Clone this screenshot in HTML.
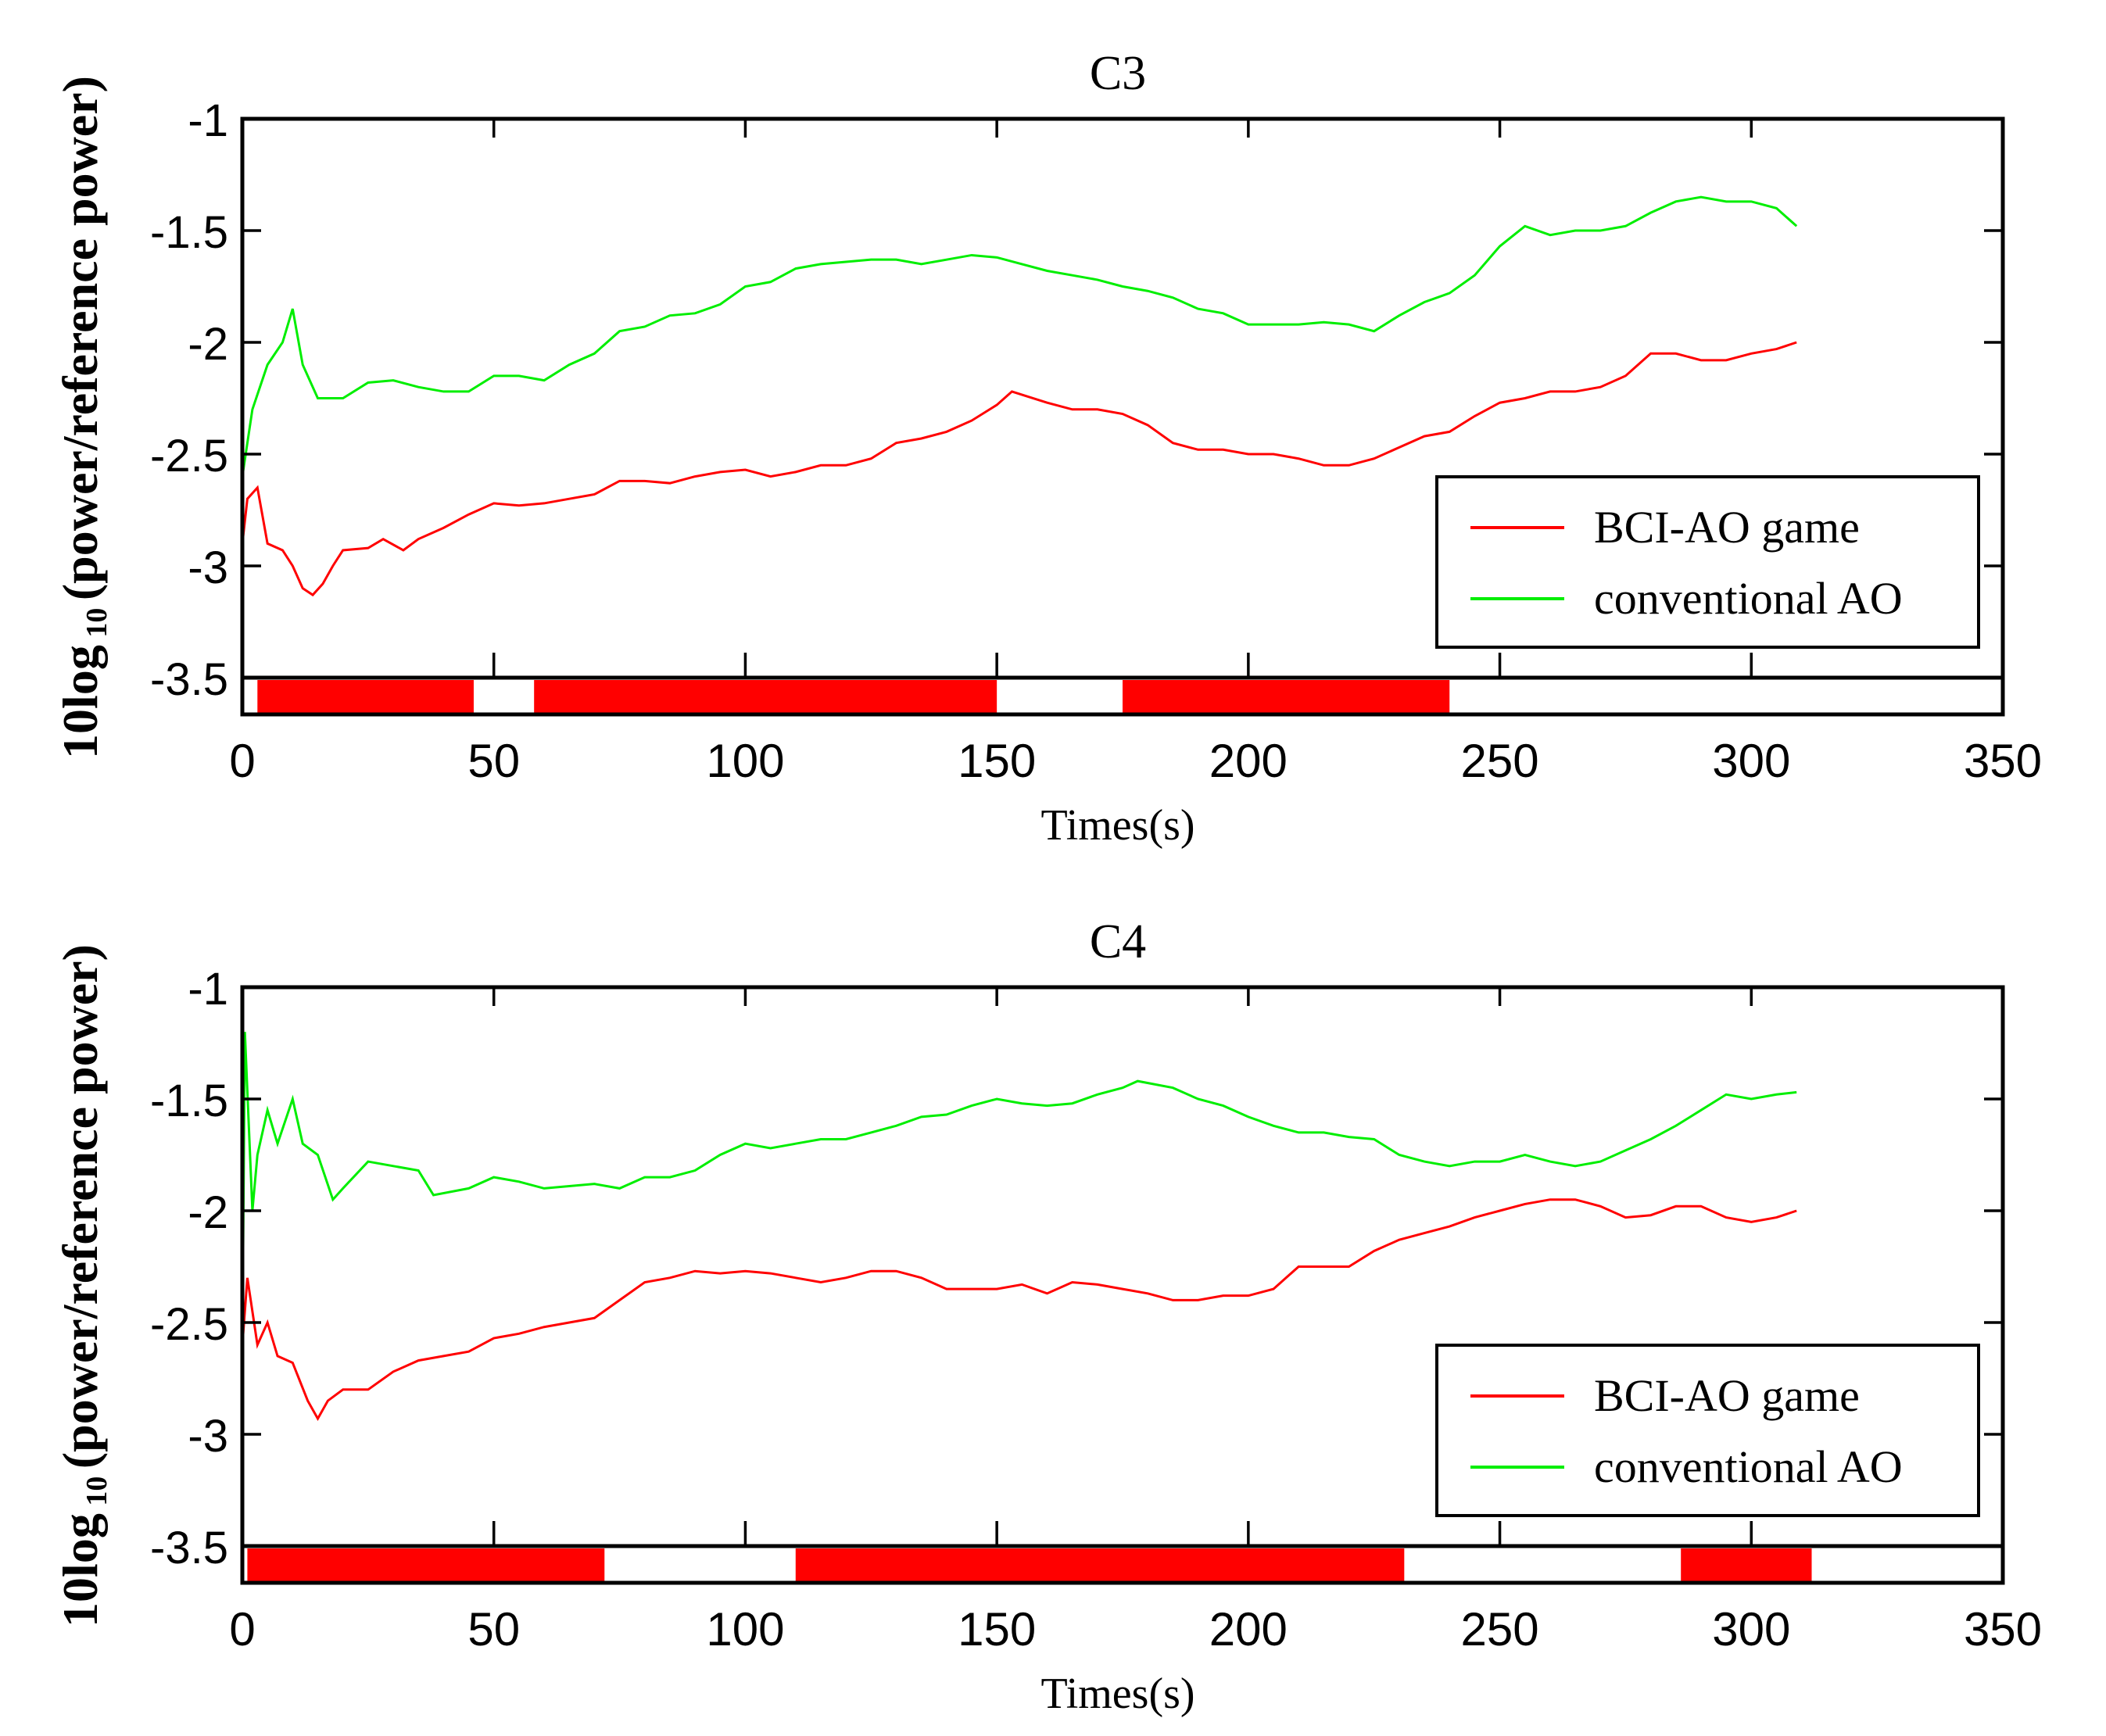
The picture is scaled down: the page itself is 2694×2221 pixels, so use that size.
<!DOCTYPE html>
<html><head><meta charset="utf-8"><style>
html,body{margin:0;padding:0;background:#fff}
svg{display:block}
</style></head><body>
<svg id="fig" xmlns="http://www.w3.org/2000/svg" width="2694" height="2221" viewBox="0 0 2694 2221"></svg>
<script>
// ---------- data ----------
const c3Times = [0,1,3,5,8,10,12,14,16,18,20,25,28,32,35,40,45,50,55,60,65,70,75,80,85,90,95,100,105,110,115,120,125,130,135,140,145,150,153,160,165,170,175,180,185,190,195,200,205,210,215,220,225,230,235,240,245,250,255,260,265,270,275,280,285,290,295,300,305,309];
const c3Red = [-2.9,-2.7,-2.65,-2.9,-2.93,-3.0,-3.1,-3.13,-3.08,-3.0,-2.93,-2.92,-2.88,-2.93,-2.88,-2.83,-2.77,-2.72,-2.73,-2.72,-2.70,-2.68,-2.62,-2.62,-2.63,-2.60,-2.58,-2.57,-2.60,-2.58,-2.55,-2.55,-2.52,-2.45,-2.43,-2.40,-2.35,-2.28,-2.22,-2.27,-2.30,-2.30,-2.32,-2.37,-2.45,-2.48,-2.48,-2.50,-2.50,-2.52,-2.55,-2.55,-2.52,-2.47,-2.42,-2.40,-2.33,-2.27,-2.25,-2.22,-2.22,-2.20,-2.15,-2.05,-2.05,-2.08,-2.08,-2.05,-2.03,-2.0];
const c3GreenTimes = [0,2,5,8,10,12,15,20,25,30,35,40,45,50,55,60,65,70,75,80,85,90,95,100,105,110,115,120,125,130,135,140,145,150,155,160,165,170,175,180,185,190,195,200,205,210,215,220,225,230,235,240,245,250,255,260,265,270,275,280,285,290,295,300,305,309];
const c3Green = [-2.6,-2.3,-2.1,-2.0,-1.85,-2.1,-2.25,-2.25,-2.18,-2.17,-2.2,-2.22,-2.22,-2.15,-2.15,-2.17,-2.1,-2.05,-1.95,-1.93,-1.88,-1.87,-1.83,-1.75,-1.73,-1.67,-1.65,-1.64,-1.63,-1.63,-1.65,-1.63,-1.61,-1.62,-1.65,-1.68,-1.70,-1.72,-1.75,-1.77,-1.80,-1.85,-1.87,-1.92,-1.92,-1.92,-1.91,-1.92,-1.95,-1.88,-1.82,-1.78,-1.70,-1.57,-1.48,-1.52,-1.50,-1.50,-1.48,-1.42,-1.37,-1.35,-1.37,-1.37,-1.40,-1.48];
const c4GreenTimes = [0,0.5,2,3,5,7,10,12,15,18,20,25,30,35,38,45,50,55,60,70,75,80,85,90,95,100,105,110,115,120,125,130,135,140,145,150,155,160,165,170,175,178,185,190,195,200,205,210,215,220,225,230,235,240,245,250,255,260,265,270,275,280,285,290,295,300,305,309];
const c4Green = [-2.6,-1.2,-2.0,-1.75,-1.55,-1.7,-1.5,-1.7,-1.75,-1.95,-1.9,-1.78,-1.80,-1.82,-1.93,-1.9,-1.85,-1.87,-1.9,-1.88,-1.90,-1.85,-1.85,-1.82,-1.75,-1.70,-1.72,-1.70,-1.68,-1.68,-1.65,-1.62,-1.58,-1.57,-1.53,-1.50,-1.52,-1.53,-1.52,-1.48,-1.45,-1.42,-1.45,-1.50,-1.53,-1.58,-1.62,-1.65,-1.65,-1.67,-1.68,-1.75,-1.78,-1.80,-1.78,-1.78,-1.75,-1.78,-1.80,-1.78,-1.73,-1.68,-1.62,-1.55,-1.48,-1.50,-1.48,-1.47];
const c4RedTimes = [0,1,3,5,7,10,13,15,17,20,25,30,35,40,45,50,55,60,65,70,75,80,85,90,95,100,105,110,115,120,125,130,135,140,145,150,155,160,165,170,175,180,185,190,195,200,205,210,215,220,225,230,235,240,245,250,255,260,265,270,275,280,285,290,295,300,305,309];
const c4Red = [-2.6,-2.3,-2.6,-2.5,-2.65,-2.68,-2.85,-2.93,-2.85,-2.80,-2.80,-2.72,-2.67,-2.65,-2.63,-2.57,-2.55,-2.52,-2.50,-2.48,-2.40,-2.32,-2.30,-2.27,-2.28,-2.27,-2.28,-2.30,-2.32,-2.30,-2.27,-2.27,-2.30,-2.35,-2.35,-2.35,-2.33,-2.37,-2.32,-2.33,-2.35,-2.37,-2.40,-2.40,-2.38,-2.38,-2.35,-2.25,-2.25,-2.25,-2.18,-2.13,-2.10,-2.07,-2.03,-2.00,-1.97,-1.95,-1.95,-1.98,-2.03,-2.02,-1.98,-1.98,-2.03,-2.05,-2.03,-2.0];
const c3Blocks = [[3,46],[58,150],[175,240]];
const c4Blocks = [[1,72],[110,231],[286,312]];
const xTicks = [0,50,100,150,200,250,300,350];
const yTicks = [-1,-1.5,-2,-2.5,-3,-3.5];

// ---------- drawing ----------
const NS='http://www.w3.org/2000/svg';
const svg=document.getElementById('fig');
function mk(tag,attrs,parent){const e=document.createElementNS(NS,tag);for(const k in attrs)e.setAttribute(k,attrs[k]);(parent||svg).appendChild(e);return e;}

function panel(prefix,top,title,series,blocks){
  const L=310,R=2562,T=top,base=top+715,B=top+762;
  const g=mk('g',{});
  
  
  const x=v=>L+(v/350)*(R-L);
  const y=v=>T+(-1-v)*286;
  const t=mk('text',{x:1430,y:T-38,'text-anchor':'middle','font-family':'Liberation Serif, serif','font-size':62},g);
  t.textContent=title;
  
  
  blocks.forEach((b,i)=>{
    const r=mk('rect',{x:x(b[0]),y:base+3,width:x(b[1])-x(b[0]),height:B-base-3,fill:'#ff0000'},g);
    
    
  });
  series.forEach(s=>{
    const d=s.t.map((tt,i)=>(i?'L':'M')+x(tt).toFixed(2)+' '+y(s.v[i]).toFixed(2)).join(' ');
    const p=mk('path',{d:d,fill:'none',stroke:s.c,'stroke-width':3},g);
    
    
  });
  const ax=mk('rect',{x:L,y:T,width:R-L,height:B-T,fill:'none',stroke:'#000','stroke-width':5},g);
  
  
  const bl=mk('line',{x1:L,x2:R,y1:base,y2:base,stroke:'#000','stroke-width':5},g);
  
  
  xTicks.forEach(v=>{
    mk('line',{x1:x(v),x2:x(v),y1:T,y2:T+24,stroke:'#000','stroke-width':3.5},g);
    mk('line',{x1:x(v),x2:x(v),y1:base,y2:base-32,stroke:'#000','stroke-width':3.5},g);
    const tl=mk('text',{x:x(v),y:B+80,'text-anchor':'middle','font-family':'Liberation Sans, sans-serif','font-size':60},g);
    tl.textContent=v;
    
    
  });
  yTicks.forEach(v=>{
    mk('line',{x1:L,x2:L+24,y1:y(v),y2:y(v),stroke:'#000','stroke-width':3.5},g);
    mk('line',{x1:R,x2:R-24,y1:y(v),y2:y(v),stroke:'#000','stroke-width':3.5},g);
    const tl=mk('text',{x:L-18,y:y(v)+22,'text-anchor':'end','font-family':'Liberation Sans, sans-serif','font-size':58},g);
    tl.textContent=v;
    
    
  });
  const xl=mk('text',{x:1430,y:B+160,'text-anchor':'middle','font-family':'Liberation Serif, serif','font-size':56},g);
  xl.textContent='Times(s)';
  
  
  const yl=mk('text',{x:0,y:0,'text-anchor':'middle','font-family':'Liberation Serif, serif','font-size':64,'font-weight':'bold',transform:'translate(124,'+(T+382)+') rotate(-90)'},g);
  yl.innerHTML='10log<tspan font-size="38" dy="12"> 10 </tspan><tspan dy="-12">(power/reference power)</tspan>';
  
  
  const lg=mk('g',{},g);
  
  
  mk('rect',{x:1838,y:T+458,width:693,height:218,fill:'#fff',stroke:'#000','stroke-width':4},lg);
  [['BCI-AO game','#ff0000',T+523],['conventional  AO','#00ee00',T+614]].forEach((e,i)=>{
    const le=mk('g',{},lg);
    
    
    mk('line',{x1:1881,x2:2001,y1:e[2],y2:e[2],stroke:e[1],'stroke-width':4},le);
    const tx=mk('text',{x:2039,y:e[2]+19,'font-family':'Liberation Serif, serif','font-size':58,'xml:space':'preserve'},le);
    tx.textContent=e[0];
  });
}
panel('c3',152,'C3',[{t:c3Times,v:c3Red,c:'#ff0000',n:'bci-ao'},{t:c3GreenTimes,v:c3Green,c:'#00ee00',n:'conventional-ao'}],c3Blocks);
panel('c4',1263,'C4',[{t:c4RedTimes,v:c4Red,c:'#ff0000',n:'bci-ao'},{t:c4GreenTimes,v:c4Green,c:'#00ee00',n:'conventional-ao'}],c4Blocks);
</script>
</body></html>
